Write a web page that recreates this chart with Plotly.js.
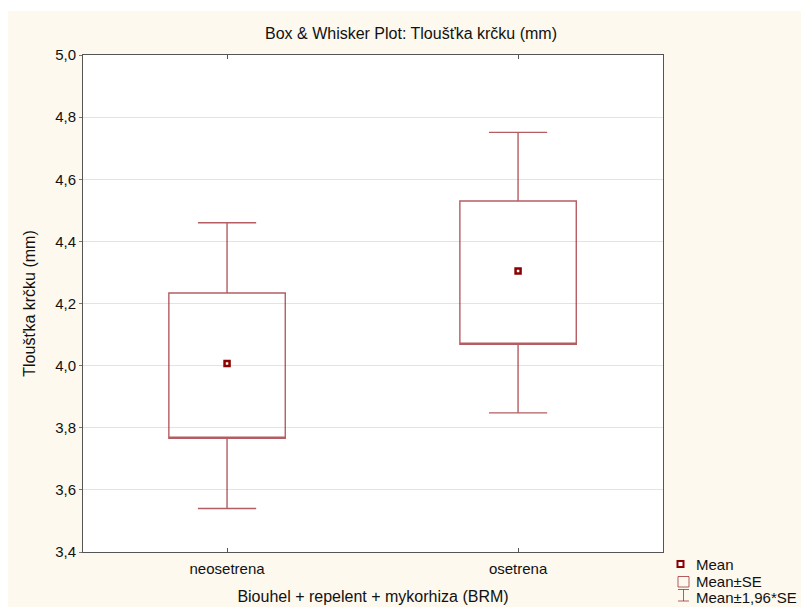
<!DOCTYPE html>
<html>
<head>
<meta charset="utf-8">
<script src="https://cdn.plot.ly/plotly-3.0.1.min.js"></script>
<style>
  html, body { margin: 0; padding: 0; background: #ffffff; }
  #chart { width: 801px; height: 607px; }
</style>
</head>
<body>
<div id="chart"></div>
<script>
// Groups on the x axis
const categories = ['neosetrena', 'osetrena'];
// Mean of each group
const means = [4.007, 4.305];
// Mean ± SE (box)
const seLow = [3.766, 4.069];
const seHigh = [4.234, 4.530];
// Mean ± 1,96*SE (whiskers)
const ciLow = [3.540, 3.848];
const ciHigh = [4.460, 4.751];
// Y axis ticks with decimal comma
const yTickVals = [3.4, 3.6, 3.8, 4.0, 4.2, 4.4, 4.6, 4.8, 5.0];
const yTickText = ['3,4', '3,6', '3,8', '4,0', '4,2', '4,4', '4,6', '4,8', '5,0'];
// Legend entries
const legendLabels = ['Mean', 'Mean±SE', 'Mean±1,96*SE'];

const W = 801, H = 607;
const M = { l: 83, r: 138, t: 55, b: 55 };
const PW = W - M.l - M.r, PH = H - M.t - M.b;
// pixel -> paper helpers for decorations outside the data area
const X = px => (px - M.l) / PW;
const Y = py => (H - M.b - py) / PH;

const FONT = 'Liberation Sans, Arial, sans-serif';
const CREAM = '#FDF9EE';
const BOX_COLOR = 'rgba(150,30,38,0.72)';
const MEAN_COLOR = '#8B0000';

const boxTrace = {
  type: 'box',
  x: categories,
  q1: seLow,
  median: seLow,
  q3: seHigh,
  lowerfence: ciLow,
  upperfence: ciHigh,
  width: 0.4,
  whiskerwidth: 0.5,
  boxpoints: false,
  fillcolor: 'rgba(255,255,255,0)',
  line: { color: BOX_COLOR, width: 1.4 },
  hoverinfo: 'skip',
  showlegend: false
};

const meanTrace = {
  type: 'scatter',
  mode: 'markers',
  x: categories,
  y: means,
  marker: { symbol: 'square', size: 5, color: '#ffffff', line: { color: MEAN_COLOR, width: 2.5 } },
  hoverinfo: 'skip',
  showlegend: false
};

const shapes = [
  // white margin strips around the cream panel
  { type: 'rect', xref: 'paper', yref: 'paper', x0: X(0), x1: X(8), y0: Y(H), y1: Y(0),
    fillcolor: '#ffffff', line: { width: 0 }, layer: 'below' },
  { type: 'rect', xref: 'paper', yref: 'paper', x0: X(0), x1: X(W), y0: Y(11), y1: Y(0),
    fillcolor: '#ffffff', line: { width: 0 }, layer: 'below' },
  // legend symbol: mean
  { type: 'rect', xref: 'paper', yref: 'paper', x0: X(677.5), x1: X(683.5), y0: Y(567), y1: Y(561),
    fillcolor: '#ffffff', line: { color: MEAN_COLOR, width: 2 } },
  // legend symbol: box
  { type: 'rect', xref: 'paper', yref: 'paper', x0: X(678), x1: X(689), y0: Y(587), y1: Y(576.5),
    fillcolor: 'rgba(0,0,0,0)', line: { color: BOX_COLOR, width: 1 } },
  // legend symbol: whisker
  { type: 'line', xref: 'paper', yref: 'paper', x0: X(678), x1: X(689), y0: Y(589.5), y1: Y(589.5),
    line: { color: BOX_COLOR, width: 1 } },
  { type: 'line', xref: 'paper', yref: 'paper', x0: X(683.5), x1: X(683.5), y0: Y(589.5), y1: Y(601),
    line: { color: BOX_COLOR, width: 1 } },
  { type: 'line', xref: 'paper', yref: 'paper', x0: X(678), x1: X(689), y0: Y(601), y1: Y(601),
    line: { color: BOX_COLOR, width: 1 } }
];

const legendY = [564, 581, 597];
const annotations = legendLabels.map((t, i) => ({
  text: t, xref: 'paper', yref: 'paper', x: X(694), y: Y(legendY[i]),
  xanchor: 'left', yanchor: 'middle', showarrow: false,
  font: { family: FONT, size: 15, color: '#111' }
}));

const layout = {
  width: W, height: H,
  margin: { l: M.l, r: M.r, t: M.t, b: M.b, pad: 0 },
  paper_bgcolor: CREAM,
  plot_bgcolor: '#ffffff',
  font: { family: FONT, size: 15, color: '#111' },
  showlegend: false,
  title: {
    text: 'Box & Whisker Plot: Tloušťka krčku (mm)',
    x: 411 / W, xref: 'container', xanchor: 'center',
    y: 1 - 33 / H, yref: 'container', yanchor: 'middle',
    font: { family: FONT, size: 16, color: '#111' }
  },
  xaxis: {
    type: 'category',
    range: [-0.495, 1.498],
    showgrid: false, zeroline: false,
    showline: true, mirror: 'ticks', linecolor: '#555', linewidth: 1,
    ticks: 'inside', ticklen: 4, tickcolor: '#555',
    ticklabelstandoff: 3,
    tickfont: { family: FONT, size: 15, color: '#111' },
    title: { text: 'Biouhel + repelent + mykorhiza (BRM)', font: { family: FONT, size: 16, color: '#111' }, standoff: 14 },
    automargin: false
  },
  yaxis: {
    range: [3.4, 5.0],
    tickvals: yTickVals, ticktext: yTickText,
    showgrid: true, gridcolor: '#E3E3E3', gridwidth: 1, zeroline: false,
    showline: true, mirror: true, linecolor: '#555', linewidth: 1,
    ticks: 'outside', ticklen: 3, tickcolor: '#777',
    tickfont: { family: FONT, size: 15, color: '#111' },
    title: { text: 'Tloušťka krčku (mm)', font: { family: FONT, size: 16, color: '#111' }, standoff: 15 },
    automargin: false
  },
  shapes: shapes,
  annotations: annotations
};

Plotly.newPlot('chart', [boxTrace, meanTrace], layout, { displayModeBar: false, staticPlot: true });
</script>
</body>
</html>
